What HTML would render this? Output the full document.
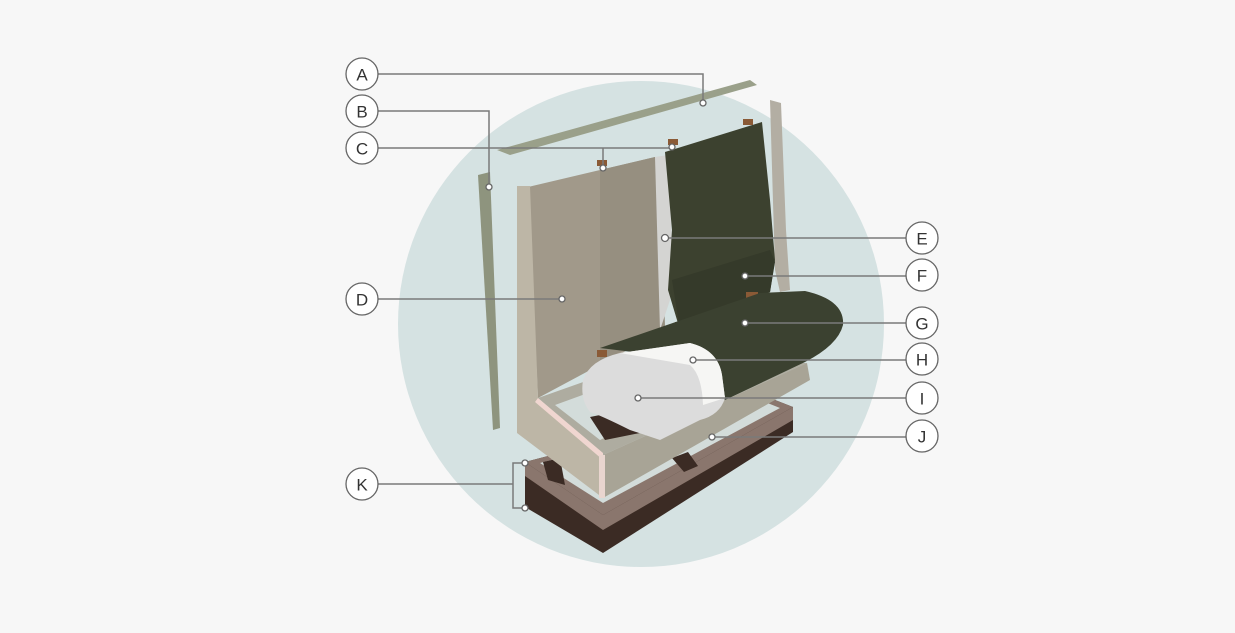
<!DOCTYPE html>
<html><head><meta charset="utf-8"><style>
html,body{margin:0;padding:0;background:#f7f7f7;}
svg{display:block}
text{font-family:"Liberation Sans",sans-serif;font-size:17px;fill:#333;text-anchor:middle;dominant-baseline:central}
</style></head><body>
<svg width="1235" height="633" viewBox="0 0 1235 633">
<rect width="1235" height="633" fill="#f7f7f7"/>
<circle cx="641" cy="324" r="243" fill="#d5e2e2"/>
<!-- base K -->
<polygon points="525,462 770,398 793,407 793,432 603,553 525,507" fill="#3b2b24"/>
<polygon points="525,462 603,515 793,407 793,420 603,530 525,476" fill="#8a766d"/>
<polygon points="525,462 770,398 793,407 603,515" fill="#8a766d"/>
<polygon points="540,463 765,402 780,408 603,503" fill="#d3dcda"/>
<polygon points="543,462 560,458 565,485 548,480" fill="#3b2b24"/>
<polygon points="672,458 688,452 698,466 684,472" fill="#3b2b24"/>
<!-- right side panel -->
<polygon points="770,100 781,103 786,230 790,290 780,292 775,270" fill="#b3aea3"/>
<!-- inner tray under seat -->
<polygon points="538,398 603,375 700,360 807,363 603,455" fill="#aeaca0"/>
<polygon points="555,405 610,385 640,420 600,440" fill="#d3dcda"/>
<polygon points="590,417 625,410 640,433 605,440" fill="#3b2b24"/>
<!-- back panel D -->
<polygon points="528,187 655,157 660,165 665,330 538,398" fill="#a1998a"/>
<polygon points="600,170 655,157 660,165 665,330 600,362" fill="#968f80"/>
<!-- bolster -->
<polygon points="655,157 668,155 672,240 670,300 660,330" fill="#d4d4d2"/>
<!-- green back -->
<polygon points="665,152 762,122 770,200 775,260 770,292 680,330 668,290 672,230" fill="#3c412f"/>
<polygon points="672,280 770,250 775,262 770,292 680,330" fill="#353a2a"/>
<!-- wood blocks -->
<rect x="597" y="160" width="10" height="6" fill="#8a5a36"/>
<rect x="668" y="139" width="10" height="6" fill="#8a5a36"/>
<rect x="743" y="119" width="10" height="6" fill="#8a5a36"/>
<rect x="746" y="292" width="12" height="7" fill="#8a5a36"/>
<rect x="675" y="322" width="12" height="7" fill="#8a5a36"/>
<rect x="597" y="350" width="10" height="7" fill="#8a5a36"/>
<!-- front rail -->
<polygon points="603,455 807,363 810,380 603,498" fill="#a8a496"/>
<!-- left end frame -->
<polygon points="517,186 530,186 538,398 603,455 603,498 517,433" fill="#bdb6a6"/>
<polygon points="538,398 603,453 603,460 535,402" fill="#f0d6d0"/>
<polygon points="599,455 605,455 605,498 599,498" fill="#e9d5cf"/>
<!-- green seat -->
<path d="M600,348 L760,293 L805,291 Q845,300 843,325 Q838,345 805,362 L725,400 L700,360 Z" fill="#3b4130"/>
<!-- cushion -->
<path d="M583,380 Q590,360 620,353 L690,343 Q718,350 722,375 L725,398 Q720,415 700,420 L660,440 L630,430 Q600,415 590,412 Q580,400 583,380 Z" fill="#dcdcdc"/>
<path d="M620,353 L690,343 Q718,350 722,375 L725,398 L703,405 Q702,375 690,365 Z" fill="#f6f6f4"/>
<!-- top rail A -->
<polygon points="497,150 750,80 757,85 510,155" fill="#9aa08a"/>
<!-- left side panel B -->
<polygon points="478,175 490,172 500,428 493,430" fill="#8e947e"/>
<!-- leaders -->
<g stroke="#7a7a7a" stroke-width="1.5" fill="none">
<polyline points="378,74 703,74 703,103"/>
<polyline points="378,111 489,111 489,185"/>
<polyline points="378,148 672,148"/>
<line x1="603" y1="148" x2="603" y2="167"/>
<line x1="378" y1="299" x2="562" y2="299"/>
<polyline points="378,484 513,484"/>
<polyline points="525,463 513,463 513,508 525,508"/>
<line x1="665" y1="238" x2="906" y2="238"/>
<line x1="745" y1="276" x2="906" y2="276"/>
<line x1="745" y1="323" x2="906" y2="323"/>
<line x1="693" y1="360" x2="906" y2="360"/>
<line x1="638" y1="398" x2="906" y2="398"/>
<line x1="712" y1="437" x2="906" y2="437"/>
</g>
<g fill="#fff" stroke="#666" stroke-width="1.3">
<circle cx="703" cy="103" r="3"/><circle cx="489" cy="187" r="3"/><circle cx="603" cy="168" r="3"/><circle cx="672" cy="147" r="3"/>
<circle cx="562" cy="299" r="3"/><circle cx="525" cy="463" r="3"/><circle cx="525" cy="508" r="3"/>
<circle cx="665" cy="238" r="3.5"/><circle cx="745" cy="276" r="3"/><circle cx="745" cy="323" r="3"/><circle cx="693" cy="360" r="3"/><circle cx="638" cy="398" r="3"/><circle cx="712" cy="437" r="3"/>
</g>
<g fill="#fff" stroke="#666" stroke-width="1.3">
<circle cx="362" cy="74" r="16"/><circle cx="362" cy="111" r="16"/><circle cx="362" cy="148" r="16"/><circle cx="362" cy="299" r="16"/><circle cx="362" cy="484" r="16"/>
<circle cx="922" cy="238" r="16"/><circle cx="922" cy="275" r="16"/><circle cx="922" cy="323" r="16"/><circle cx="922" cy="359" r="16"/><circle cx="922" cy="398" r="16"/><circle cx="922" cy="436" r="16"/>
</g>
<text x="362" y="75">A</text><text x="362" y="112">B</text><text x="362" y="149">C</text><text x="362" y="300">D</text><text x="362" y="485">K</text>
<text x="922" y="239">E</text><text x="922" y="276">F</text><text x="922" y="324">G</text><text x="922" y="360">H</text><text x="922" y="399">I</text><text x="922" y="437">J</text>
</svg>
</body></html>
